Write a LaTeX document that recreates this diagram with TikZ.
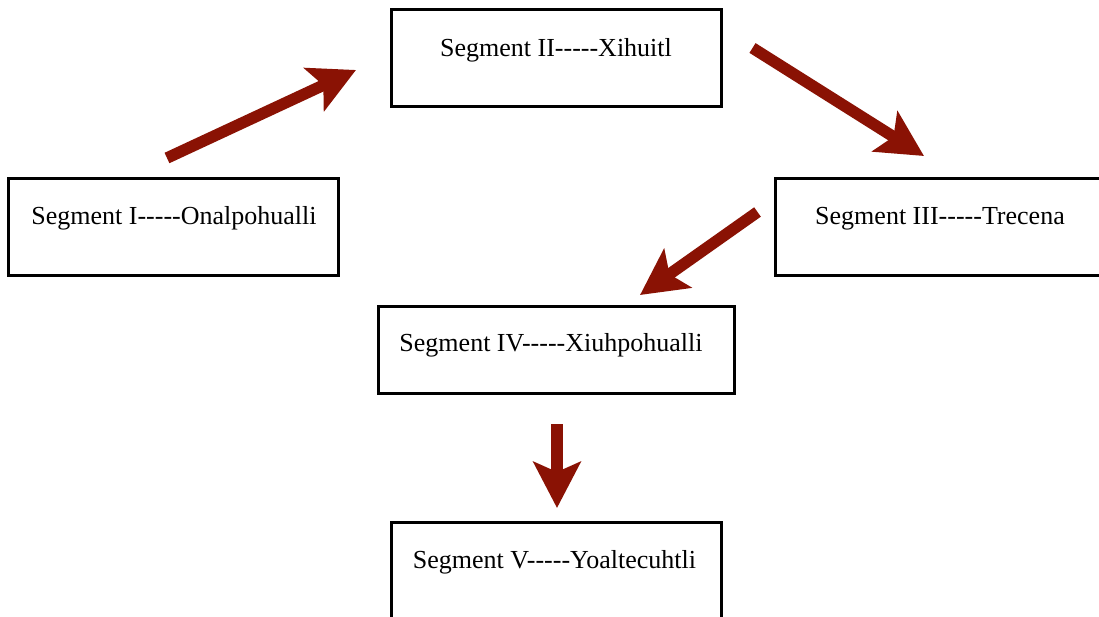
\documentclass[tikz,border=0pt]{standalone}
\usepackage{fontspec}
\setmainfont{Liberation Serif}[Ligatures=TeXOff]
\usetikzlibrary{arrows.meta}
\definecolor{arrowred}{RGB}{138,18,4}
\begin{document}
\begin{tikzpicture}[x=1pt,y=-1pt,
  segbox/.style={draw=black,line width=3pt,rectangle,inner sep=0pt},
  segtext/.style={anchor=base,inner sep=0pt,font=\fontsize{26}{30}\selectfont},
  flow/.style={draw=arrowred,line width=11.5pt,
    -{Stealth[length=46pt,width=47pt,inset=10pt]}}]
\useasboundingbox (0,0) rectangle (1099,617);
\clip (0,0) rectangle (1099,617);
\fill[white] (0,0) rectangle (1099,617);

% boxes
\node[segbox,minimum width=330pt,minimum height=97pt] (s1) at (173,227.5) {};
\node[segbox,minimum width=330pt,minimum height=97pt] (s2) at (556,58.5) {};
\node[segbox,minimum width=330pt,minimum height=97pt] (s3) at (940,227.5) {};
\node[segbox,minimum width=356pt,minimum height=87pt] (s4) at (556,349.5) {};
\node[segbox,minimum width=330pt,minimum height=97pt] (s5) at (556,571) {};

% labels
\node[segtext] (t1) at (174,225) {Segment I-----Onalpohualli};
\node[segtext] (t2) at (556,57) {Segment II-----Xihuitl};
\node[segtext] (t3) at (940,225) {Segment III-----Trecena};
\node[segtext] (t4) at (551,351) {Segment IV-----Xiuhpohualli};
\node[segtext] (t5) at (554.5,568) {Segment V-----Yoaltecuhtli};

% arrow ends
\coordinate (a1s) at (167,158);
\coordinate (a1e) at (356,70);
\coordinate (a2s) at (752.5,48);
\coordinate (a2e) at (924,156);
\coordinate (a3s) at (757.5,212);
\coordinate (a3e) at (640,295);
\coordinate (a4s) at (557,424);
\coordinate (a4e) at (557,508);

\draw[flow] (a1s) -- (a1e);
\draw[flow] (a2s) -- (a2e);
\draw[flow] (a3s) -- (a3e);
\draw[flow] (a4s) -- (a4e);
\end{tikzpicture}
\end{document}
